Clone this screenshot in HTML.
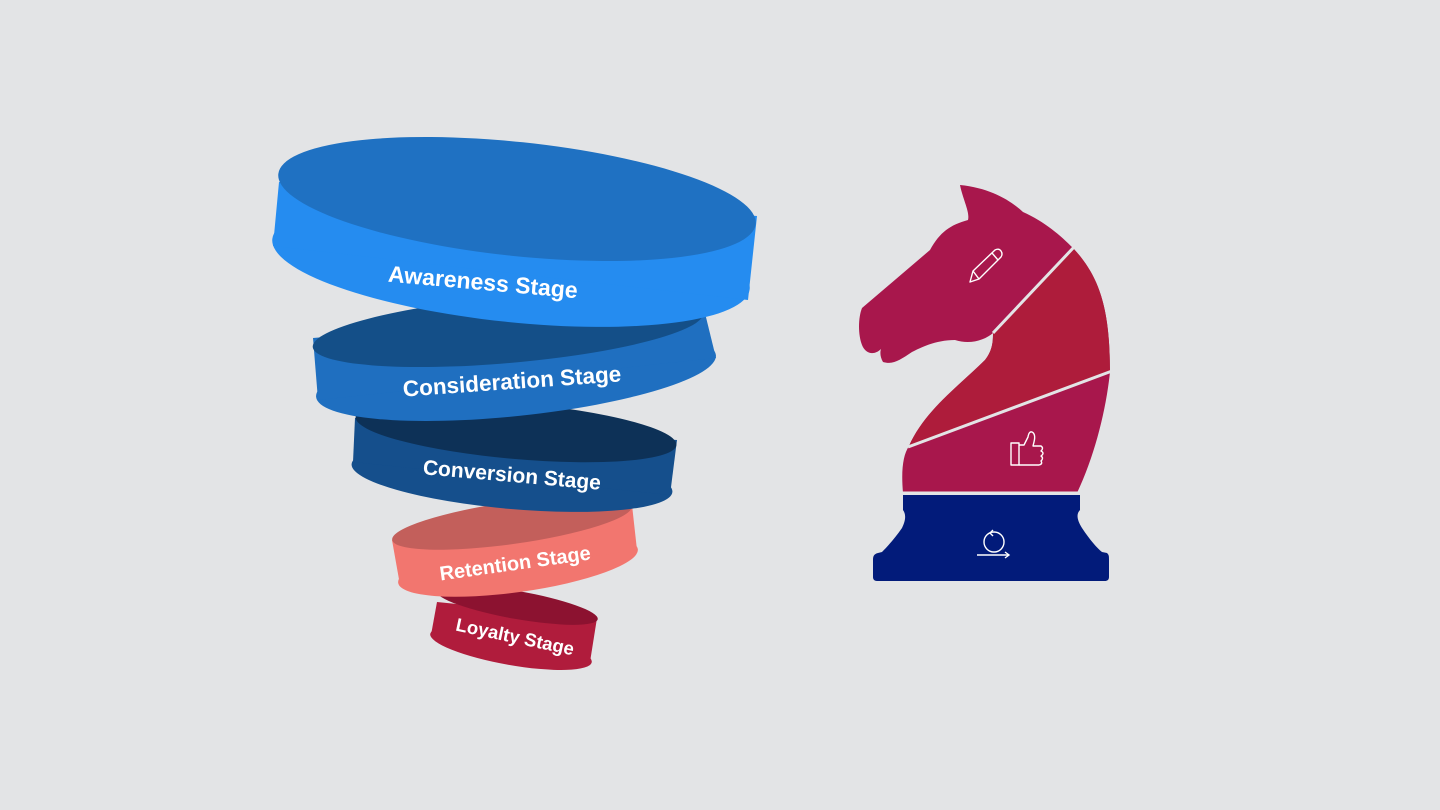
<!DOCTYPE html>
<html><head><meta charset="utf-8"><style>
html,body{margin:0;padding:0;background:#e3e4e6;}
svg{display:block}
text{font-family:"Liberation Sans",sans-serif;font-weight:bold;fill:#fff;}
</style></head><body>
<svg width="1440" height="810" viewBox="0 0 1440 810" xmlns="http://www.w3.org/2000/svg">
<rect width="1440" height="810" fill="#e3e4e6"/>
<defs>
<clipPath id="kn"><path id="knp" d="M960,185 C990,188 1010,200 1023,212 C1045,222 1060,235 1073,248 C1098,275 1110,305 1110,372 C1106,410 1095,455 1077,493 L903,493 C901,470 903,455 909,446 C925,410 960,385 985,360 C993,350 993,340 993,333 C985,340 970,345 955,340 C935,340 920,348 912,352 C900,360 893,365 883,362 C880,357 880,352 881,349 C875,355 866,355 862,345 C858,335 858,318 862,308 L930,250 C940,232 950,225 968,220 C970,212 963,200 960,185 Z"/></clipPath>
</defs>

<!-- Loyalty -->
<g>
<ellipse cx="511" cy="648" rx="82" ry="17" transform="rotate(10 511 648)" fill="#b01c3c"/>
<polygon points="437,602 597,618 590,662 431,635" fill="#b01c3c"/>
<ellipse cx="517" cy="605" rx="82" ry="14" transform="rotate(10 517 605)" fill="#8c1230"/>
<text x="515" y="643" font-size="18.5" text-anchor="middle" transform="rotate(12 515 637)">Loyalty Stage</text>
</g>
<!-- Retention -->
<g>
<ellipse cx="518" cy="566" rx="121" ry="26" transform="rotate(-8 518 566)" fill="#f2766f"/>
<polygon points="392,540 632,505 637,550 400,585" fill="#f2766f"/>
<ellipse cx="512" cy="523" rx="121" ry="21" transform="rotate(-8 512 523)" fill="#c35f5b"/>
<text x="515" y="570" font-size="20" text-anchor="middle" transform="rotate(-8 515 563)">Retention Stage</text>
</g>
<!-- Conversion -->
<g>
<ellipse cx="512" cy="478" rx="161" ry="31" transform="rotate(5 512 478)" fill="#154f8c"/>
<polygon points="355,418 677,440 670,495 353,462" fill="#154f8c"/>
<ellipse cx="516" cy="431" rx="161" ry="28" transform="rotate(5 516 431)" fill="#0d3157"/>
<text x="512" y="482" font-size="21" text-anchor="middle" transform="rotate(5 512 475)">Conversion Stage</text>
</g>
<!-- Consideration -->
<g>
<ellipse cx="516" cy="376" rx="201" ry="40" transform="rotate(-6 516 376)" fill="#1f6fc0"/>
<polygon points="313,338 703,305 716,358 318,400" fill="#1f6fc0"/>
<ellipse cx="508" cy="330" rx="196" ry="33" transform="rotate(-5 508 330)" fill="#144f88"/>
<text x="512" y="389" font-size="22.5" text-anchor="middle" transform="rotate(-4 512 381)">Consideration Stage</text>
</g>
<!-- Awareness -->
<g>
<ellipse cx="511" cy="264" rx="240" ry="58" transform="rotate(6 511 264)" fill="#258cf0"/>
<polygon points="279,182 757,216 748,300 273,246" fill="#258cf0"/>
<ellipse cx="517" cy="199" rx="240" ry="57" transform="rotate(6 517 199)" fill="#1f71c2"/>
<text x="483" y="290" font-size="23" text-anchor="middle" transform="rotate(5 483 282)">Awareness Stage</text>
</g>

<!-- Knight -->
<use href="#knp" fill="#a8174c"/>
<g clip-path="url(#kn)">
<polygon points="1073,248 1130,230 1130,365 1110,372 909,446 880,460 960,380 993,333" fill="#ae1c3b"/>
</g>
<line x1="1075" y1="246" x2="993" y2="333" stroke="#e3e4e6" stroke-width="3"/>
<line x1="1112" y1="371" x2="908" y2="447" stroke="#e3e4e6" stroke-width="3"/>
<line x1="900" y1="493" x2="1082" y2="493" stroke="#e3e4e6" stroke-width="3"/>
<!-- base -->
<path d="M903,495 L1080,495 L1080,510 C1076,514 1077,520 1082,528 C1090,540 1097,548 1102,552 L1107,553 C1109,555 1109,556 1109,560 L1109,577 C1109,580 1107,581 1105,581 L877,581 C874,581 873,579 873,577 L873,560 C873,556 874,554 878,553 L882,552 C888,546 895,538 902,528 C906,520 906,514 903,510 Z" fill="#021b7a"/>
<!-- pencil -->
<g fill="none" stroke="#fff" stroke-width="1.4" stroke-linejoin="round">
<path d="M970,282 L973,271 L995,250 Q999,248 1001,251 Q1003,254 1001,257 L979,279 Z"/>
<line x1="973" y1="271" x2="979" y2="279"/>
<line x1="992" y1="253" x2="998" y2="260"/>
</g>
<!-- thumb -->
<g fill="none" stroke="#fff" stroke-width="1.4" stroke-linejoin="round">
<rect x="1011" y="443" width="8" height="22"/>
<path d="M1019,445 L1024,445 L1028,437 Q1029,431 1032,432 Q1036,434 1034,442 L1033,446 L1041,446 Q1044,448 1041,451 Q1045,453 1041,456 Q1044,458 1041,461 Q1043,464 1039,465 L1019,465"/>
</g>
<!-- cycle -->
<g fill="none" stroke="#fff" stroke-width="1.4">
<circle cx="994" cy="542" r="10"/>
<path d="M993,530 L990,533 L993,536"/>
<line x1="977" y1="555" x2="1008" y2="555"/>
<path d="M1005,552 L1009,555 L1005,558"/>
</g>
</svg>
</body></html>
